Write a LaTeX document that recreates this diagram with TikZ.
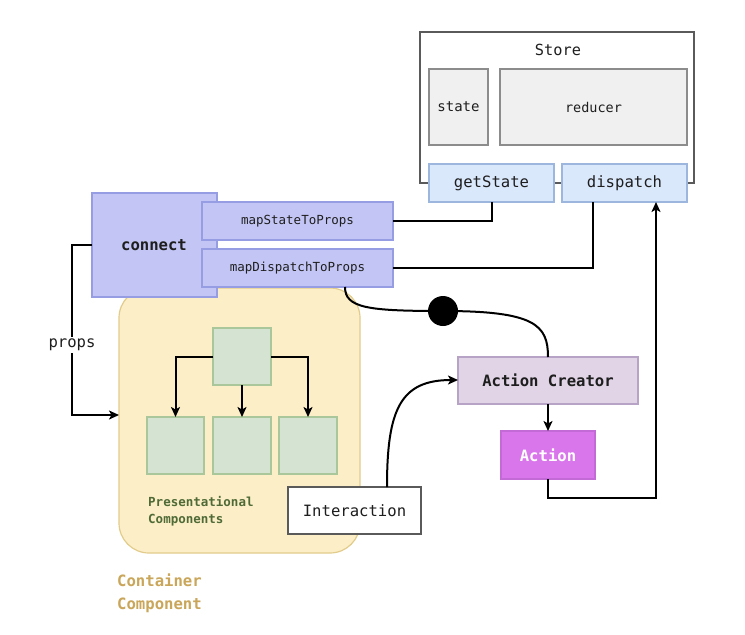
\documentclass[tikz,border=0pt]{standalone}
\usepackage{fontspec}
\setmainfont{DejaVu Sans Mono}
\usetikzlibrary{arrows.meta}
\definecolor{storeline}{HTML}{5A5A5A}
\definecolor{grayfill}{HTML}{F0F0F0}
\definecolor{grayline}{HTML}{8C8C8C}
\definecolor{bluefill}{HTML}{DAE8FC}
\definecolor{blueline}{HTML}{9DB6DE}
\definecolor{connfill}{HTML}{C3C6F5}
\definecolor{connline}{HTML}{979DE3}
\definecolor{contfill}{HTML}{FCEFC8}
\definecolor{contline}{HTML}{E2CC8C}
\definecolor{greenfill}{HTML}{D5E4D2}
\definecolor{greenline}{HTML}{A9C79A}
\definecolor{purpfill}{HTML}{E0D4E6}
\definecolor{purpline}{HTML}{B7A3C6}
\definecolor{magfill}{HTML}{D976EB}
\definecolor{magline}{HTML}{C46AD6}
\definecolor{txt}{HTML}{1E1E1E}
\definecolor{presgreen}{HTML}{4F6A36}
\definecolor{conttxt}{HTML}{C9A65A}
\newcommand{\fL}{\fontsize{15.6}{19}\selectfont}
\newcommand{\fS}{\fontsize{12.5}{17}\selectfont}
\tikzset{
  box/.style={draw, line width=1.2pt, inner sep=0pt, outer sep=0pt, text=txt},
  grayb/.style={box, fill=grayfill, draw=grayline},
  blueb/.style={box, fill=bluefill, draw=blueline, font=\fL},
  connb/.style={box, fill=connfill, draw=connline},
  greenb/.style={box, fill=greenfill, draw=greenline},
  arr/.style={line width=2pt, -{Stealth[length=10pt,width=9pt,inset=2.5pt]}},
  ln/.style={line width=2pt},
}
\begin{document}
\begin{tikzpicture}[x=1pt,y=-1pt]
\useasboundingbox[fill=white] (0,0) rectangle (745,635);

% Store
\node[box, draw=storeline, fill=white, minimum width=274, minimum height=151] (store) at (557,107.5) {};
\node[font=\fontsize{15.3}{18}\selectfont, text=txt] (storelbl) at (558,50) {Store};
\node[grayb, minimum width=59, minimum height=76, font=\fontsize{14}{17}\selectfont] (state) at (458.5,107) {state};
\node[grayb, minimum width=187, minimum height=76, font=\fontsize{13.5}{17}\selectfont] (reducer) at (593.5,107) {reducer};
\node[blueb, minimum width=125, minimum height=38] (getstate) at (491.5,183) {getState};
\node[blueb, minimum width=125, minimum height=38] (dispatch) at (624.5,183) {dispatch};

% Container
\node[box, fill=contfill, draw=contline, rounded corners=30pt, minimum width=241, minimum height=265] (cont) at (239.5,420.5) {};

% connect
\node[connb, minimum width=125, minimum height=104] (connect) at (154.5,245) {};
\node[font=\fL\bfseries, text=txt] (connectlbl) at (154,245) {connect};
\node[connb, minimum width=191, minimum height=38, font=\fS] (msp) at (297.5,221) {mapStateToProps};
\node[connb, minimum width=191, minimum height=38, font=\fS] (mdp) at (297.5,268) {mapDispatchToProps};

% presentational
\node[greenb, minimum width=58, minimum height=57] (ptop) at (242,356.5) {};
\node[greenb, minimum width=57, minimum height=57] (p1) at (175.5,445.5) {};
\node[greenb, minimum width=58, minimum height=57] (p2) at (242,445.5) {};
\node[greenb, minimum width=58, minimum height=57] (p3) at (308,445.5) {};
\draw[arr] (ptop.west |- 0,357) -| (p1.north);
\draw[arr] (ptop.south) -- (p2.north);
\draw[arr] (ptop.east |- 0,357) -| (p3.north);
\node[anchor=west, align=left, font=\fontsize{12.5}{17}\selectfont\bfseries, text=presgreen, inner sep=0pt] (pres) at (148,511) {Presentational\\Components};

% Container label
\node[anchor=west, align=left, font=\fontsize{15.6}{23}\selectfont\bfseries, text=conttxt, inner sep=0pt] (contlbl) at (117,593.5) {Container\\Component};

% Interaction
\node[box, draw=storeline, fill=white, minimum width=133, minimum height=47, font=\fL] (inter) at (354.5,510.5) {Interaction};

% Action creator / action
\node[box, fill=purpfill, draw=purpline, minimum width=180, minimum height=47, font=\fL\bfseries] (ac) at (548,380.5) {Action Creator};
\node[box, fill=magfill, draw=magline, minimum width=94, minimum height=48, font=\fL\bfseries, text=white] (act) at (548,455) {Action};

% props
\coordinate (pa) at (72,415);
\draw[arr] (connect.west) -| (pa) -- (pa -| cont.west);
\node[fill=white, font=\fL, text=txt, inner sep=2pt] (props) at (72,345) {props};

% store connections
\draw[ln] (msp.east) -| (getstate.south);
\coordinate (dd) at (593,268);
\draw[ln] (mdp.east) -- (dd) -- (dd |- dispatch.south);
\coordinate (ab) at (656,498);
\draw[arr] (act.south) |- (ab) -- (ab |- dispatch.south);
\draw[arr] (ac.south) -- (act.north);

% dispatch curve
\node[circle, fill=black, minimum size=30pt, inner sep=0pt] (dot) at (443,311) {};
\coordinate (ms) at (345,287);
\draw[ln] (ms) .. controls (345,308) and (368,311) .. (dot.center);
\draw[ln] (dot.center) .. controls (535,311) and (548,325) .. (ac.north);

% interaction curve
\coordinate (is) at (387,487);
\coordinate (ai) at (458,380);
\draw[arr] (is) .. controls (387,410) and (400,380) .. (ai);
\end{tikzpicture}
\end{document}
